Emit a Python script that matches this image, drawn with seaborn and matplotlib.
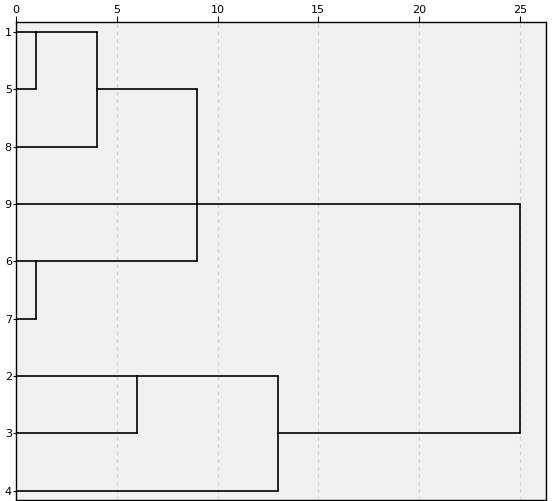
import matplotlib
matplotlib.use("Agg")
import matplotlib.pyplot as plt
import seaborn as sns
import pandas as pd
import numpy as np

# Leaf order (top to bottom) and merges (children, rescaled distance)
leaf_labels = ["1", "5", "8", "9", "6", "7", "2", "3", "4"]
merge_children = [
    ["1", "5"],
    ["A", "8"],
    ["6", "7"],
    ["B", "9", "C"],
    ["2", "3"],
    ["E", "4"],
    ["D", "F"],
]
merge_names = ["A", "B", "C", "D", "E", "F", "G"]
merge_heights = [1, 4, 1, 9, 6, 13, 25]
x_ticks = [0, 5, 10, 15, 20, 25]

sns.set_theme(style="white")
plt.rcParams['font.family'] = ['DejaVu Sans']

anchor = {lab: i for i, lab in enumerate(leaf_labels)}
height = {lab: 0 for lab in leaf_labels}
rows = []
seg = 0
for name, kids, h in zip(merge_names, merge_children, merge_heights):
    ks = [anchor[k] for k in kids]
    for k in kids:
        rows.append(dict(seg=seg, x=height[k], y=anchor[k]))
        rows.append(dict(seg=seg, x=h, y=anchor[k]))
        seg += 1
    rows.append(dict(seg=seg, x=h, y=min(ks)))
    rows.append(dict(seg=seg, x=h, y=max(ks)))
    seg += 1
    s = sorted(ks)
    n = len(s)
    if n % 2 == 1:
        anchor[name] = s[n // 2]
    else:
        anchor[name] = int(np.floor((s[n // 2 - 1] + s[n // 2]) / 2))
    height[name] = h
df = pd.DataFrame(rows)

fig = plt.figure(figsize=(5.52, 5.01), dpi=100)
ax = fig.add_axes([16 / 552, 1 - 500 / 501, 530 / 552, 478 / 501])
ax.set_facecolor("#f0f0f0")
fig.patch.set_facecolor("white")

for xt in x_ticks[1:]:
    ax.axvline(xt, color="#d2d2d2", lw=0.9, ls=(0, (3, 3)), zorder=0)

sns.lineplot(data=df, x="x", y="y", units="seg", estimator=None, sort=False,
             color="black", lw=1.2, ax=ax, legend=False)

ax.set_xlim(0, 26.3)
ax.set_ylim(8.16, -0.17)
ax.xaxis.tick_top()
ax.set_xticks(x_ticks)
ax.set_xticklabels([str(t) for t in x_ticks])
ax.set_yticks(range(len(leaf_labels)))
ax.set_yticklabels(leaf_labels)
ax.tick_params(axis="x", top=True, length=4, width=0.8, pad=1, labelsize=8, colors="black")
ax.tick_params(axis="y", left=True, length=2, width=0.8, pad=1, labelsize=8, colors="black")
ax.set_xlabel("")
ax.set_ylabel("")
for sp in ax.spines.values():
    sp.set_color("black")
    sp.set_linewidth(1.0)

fig.savefig("out.png", dpi=100)
